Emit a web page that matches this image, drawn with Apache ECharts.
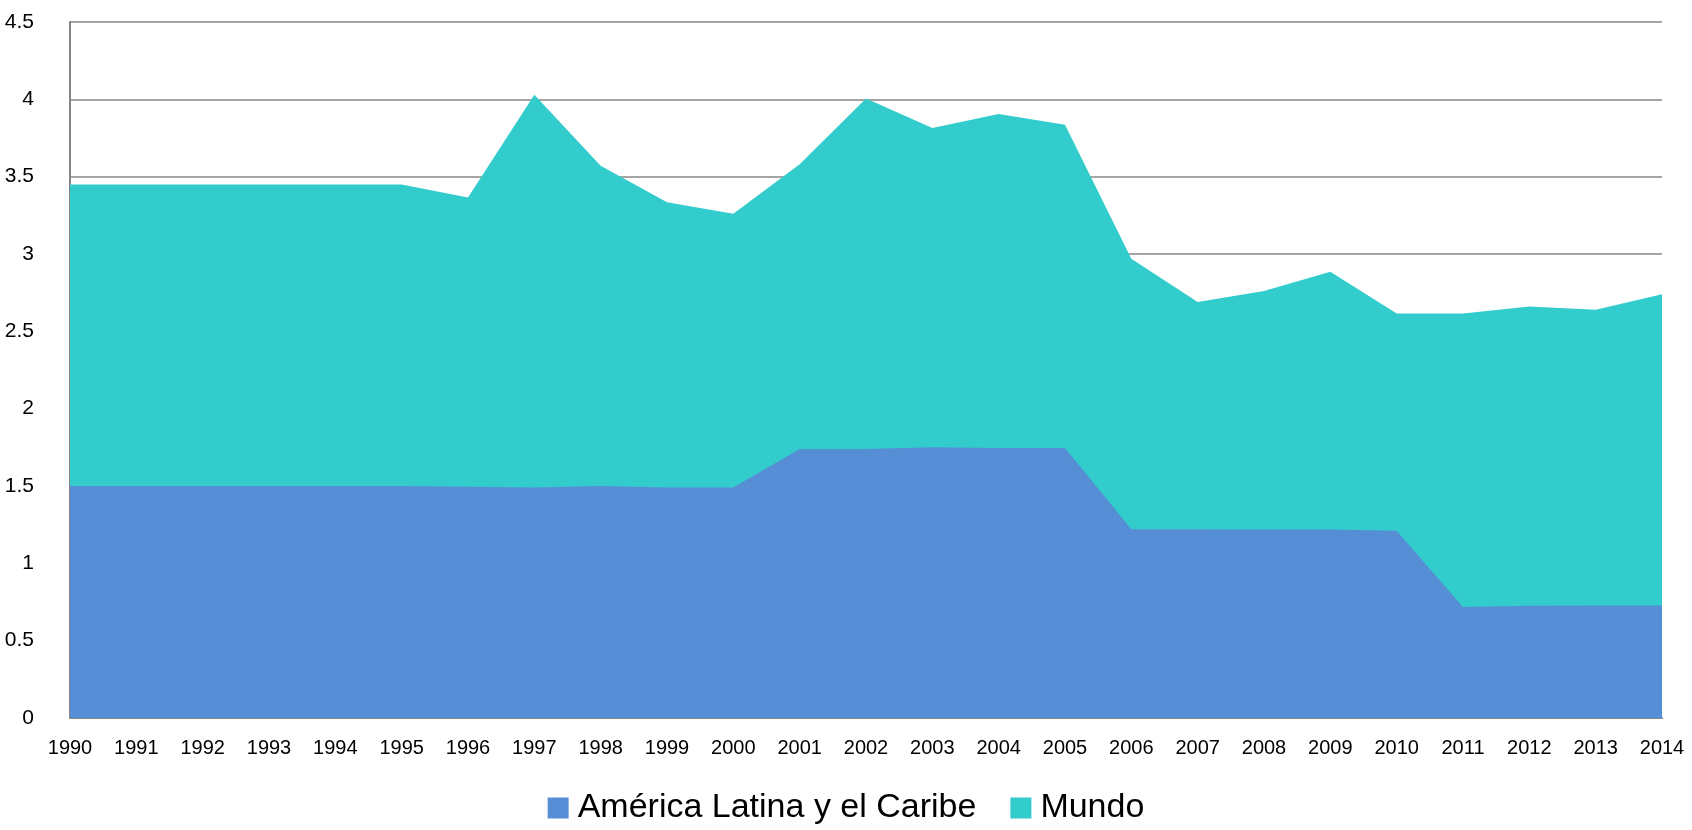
<!DOCTYPE html>
<html style="height: 100%">

<head>
    <meta charset="utf-8">
    <title>index</title>
    <style>
        html, body { margin: 0; padding: 0; background: #fff; }
        #container {
            width: 1692px;
            height: 830px;
        }
    </style>
</head>

<body>
    <div id="container"></div>
</body>
<script src="https://cdn.jsdelivr.net/npm/echarts@6/dist/echarts.min.js"></script>
<script type="text/javascript">
    var years = ['1990', '1991', '1992', '1993', '1994', '1995', '1996', '1997', '1998', '1999', '2000', '2001',
        '2002', '2003', '2004', '2005', '2006', '2007', '2008', '2009', '2010', '2011', '2012', '2013', '2014'];
    var latam = [1.5, 1.5, 1.5, 1.5, 1.5, 1.5, 1.495, 1.49, 1.5, 1.49, 1.49, 1.74,
        1.74, 1.75, 1.745, 1.745, 1.22, 1.22, 1.218, 1.218, 1.21, 0.718, 0.726, 0.728, 0.728];
    var mundo = [3.45, 3.45, 3.45, 3.45, 3.45, 3.45, 3.365, 4.03, 3.57, 3.335, 3.26, 3.58,
        4.005, 3.815, 3.905, 3.835, 2.97, 2.69, 2.76, 2.885, 2.615, 2.615, 2.66, 2.64, 2.74];
    var yTicks = [0, 0.5, 1, 1.5, 2, 2.5, 3, 3.5, 4, 4.5];

    var font = 'Liberation Sans';
    var myChart = echarts.init(document.getElementById('container'));
    var option = {
        animation: false,
        grid: { left: 70, right: 30, top: 22, bottom: 112 },
        legend: {
            bottom: 0,
            left: 'center',
            itemWidth: 21,
            itemHeight: 21,
            itemGap: 34,
            icon: 'rect',
            textStyle: { fontFamily: font, fontSize: 34, color: '#000', padding: [0, 0, 0, 4] },
            data: ['América Latina y el Caribe', 'Mundo']
        },
        xAxis: {
            type: 'category',
            data: years,
            boundaryGap: false,
            axisLine: { lineStyle: { color: '#868686', width: 2 } },
            axisTick: { show: false },
            axisLabel: { fontFamily: font, fontSize: 20, color: '#000', margin: 20, interval: 0 }
        },
        yAxis: {
            type: 'value',
            min: yTicks[0],
            max: yTicks[yTicks.length - 1],
            interval: 0.5,
            axisLine: { show: true, lineStyle: { color: '#868686', width: 2 } },
            axisTick: { show: false },
            axisLabel: { fontFamily: font, fontSize: 21, color: '#000', margin: 36 },
            splitLine: { lineStyle: { color: '#868686', width: 1.5 } }
        },
        series: [{
            name: 'América Latina y el Caribe',
            type: 'line',
            data: latam,
            z: 3,
            showSymbol: false,
            lineStyle: { width: 0 },
            itemStyle: { color: '#558ED5' },
            areaStyle: { color: '#558ED5', opacity: 1 }
        }, {
            name: 'Mundo',
            type: 'line',
            data: mundo,
            z: 2,
            showSymbol: false,
            lineStyle: { width: 0 },
            itemStyle: { color: '#33CCCC' },
            areaStyle: { color: '#33CCCC', opacity: 1 }
        }]
    };
    myChart.setOption(option, true);
</script>

</html>
